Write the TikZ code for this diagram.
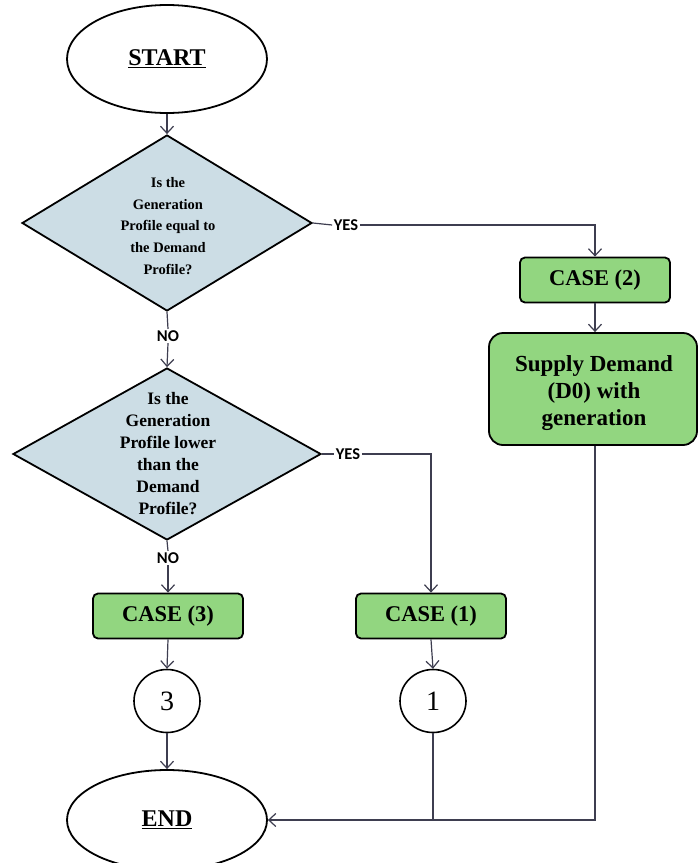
\documentclass[tikz,border=0pt]{standalone}
\usepackage{fontspec}
\setmainfont{Liberation Serif}
\newfontfamily\lblfont{Carlito}
\usetikzlibrary{shapes.geometric,arrows.meta}
\definecolor{dfill}{RGB}{204,221,229}
\definecolor{gfill}{RGB}{146,214,128}
\definecolor{lcol}{RGB}{62,62,80}
\tikzset{
 term/.style={ellipse,draw=black,line width=1.8pt,fill=white,minimum width=200pt,inner sep=0pt,font=\fontsize{24}{28}\selectfont\bfseries},
 decision/.style={diamond,draw=black,line width=1.8pt,fill=dfill,inner sep=0pt},
 dtext/.style={align=center,inner sep=0pt},
 casebox/.style={rectangle,rounded corners=5pt,draw=black,line width=1.8pt,fill=gfill,minimum width=150pt,minimum height=45pt,font=\fontsize{22.5}{26}\selectfont\bfseries},
 bigbox/.style={rectangle,rounded corners=14pt,draw=black,line width=1.8pt,fill=gfill,minimum width=208pt,minimum height=112pt},
 bigtext/.style={align=center,inner sep=0pt,font=\fontsize{23}{27}\selectfont\bfseries},
 conn/.style={ellipse,draw=black,line width=1.6pt,fill=white,minimum width=66pt,minimum height=63pt,inner sep=0pt,font=\fontsize{28}{30}\selectfont},
 lbl/.style={fill=white,inner sep=1.5pt,font=\lblfont\fontsize{16.5}{18}\selectfont\bfseries},
 flow/.style={draw=lcol,line width=1.2pt,-{Straight Barb[length=7pt,width=13pt]}},
 plain/.style={draw=lcol,line width=1.2pt}
}
\begin{document}
\begin{tikzpicture}[x=1pt,y=-1pt]
\useasboundingbox (0,0) rectangle (697,863);
\fill[white] (0,0) rectangle (697,863);

% nodes
\node[term,minimum height=108pt] (start) at (167,59) {\underline{START}};
\node[decision,minimum width=290pt,minimum height=176pt] (d1) at (167,223) {};
\node[dtext,font=\fontsize{14.5}{21.7}\selectfont\bfseries] (t1) at (168,226)
  {Is the\\Generation\\Profile equal to\\the Demand\\Profile?};
\node[lbl] (y1) at (346,225) {YES};
\node[lbl] (n1) at (168,336) {NO};
\node[casebox] (case2) at (595,280) {CASE (2)};
\node[bigbox] (supply) at (593,389) {};
\node[bigtext] (supplytext) at (594,393) {Supply Demand\\(D0) with\\generation};
\node[decision,minimum width=308pt,minimum height=172pt] (d2) at (167,454) {};
\node[dtext,font=\fontsize{17.5}{22}\selectfont\bfseries] (t2) at (168,454)
  {Is the\\Generation\\Profile lower\\than the\\Demand\\Profile?};
\node[lbl] (y2) at (348,454) {YES};
\node[lbl] (n2) at (168,558) {NO};
\node[casebox] (case3) at (168,616) {CASE (3)};
\node[casebox] (case1) at (431,616) {CASE (1)};
\node[conn] (c3) at (167,701) {3};
\node[conn] (c1) at (433,701) {1};
\node[term,minimum height=100pt] (endn) at (167,820) {\underline{END}};

% connectors
\draw[flow] (start.south) -- (d1.north);
\draw[plain] (d1.east) -- (y1.west);
\draw[flow] (y1.east) -| (case2.north);
\draw[plain] (d1.south) -- (n1.north);
\draw[flow] (n1.south) -- (d2.north);
\draw[flow] (case2.south) -- (case2.south |- supply.north);
\draw[plain] (d2.east) -- (y2.west);
\draw[flow] (y2.east) -| (case1.north);
\draw[plain] (d2.south) -- (n2.north);
\draw[flow] (n2.south) -- (case3.north);
\draw[flow] (case3.south) -- (c3.north);
\draw[flow] (case1.south) -- (c1.north);
\draw[flow] (c3.south) -- (endn.north);
\draw[plain] (c1.south) -- (c1.south |- endn.east);
\draw[flow] (case2.south |- supply.south) |- (endn.east);
\end{tikzpicture}
\end{document}
